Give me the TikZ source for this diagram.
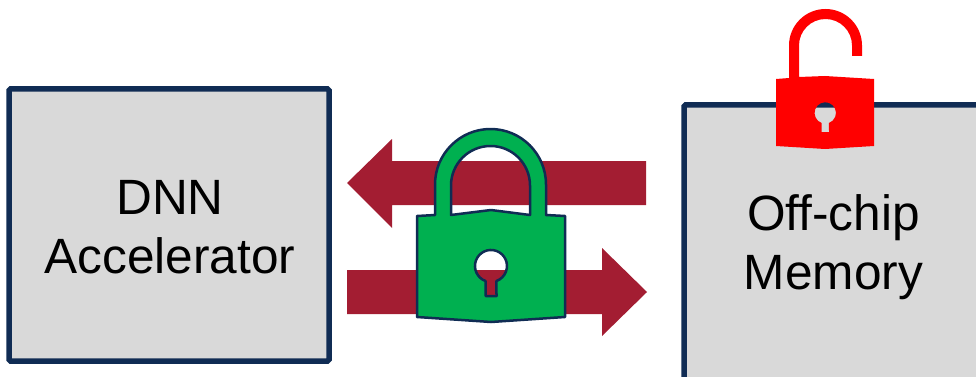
\documentclass[tikz,border=0pt]{standalone}
\usepackage{fontspec}
\setmainfont{Liberation Sans}

\definecolor{navy}{RGB}{16,44,84}
\definecolor{boxgray}{RGB}{217,217,217}
\definecolor{arrowred}{RGB}{163,29,50}
\definecolor{lockgreen}{RGB}{0,176,80}

\begin{document}
\begin{tikzpicture}[x=1pt, y=-1pt,
  unit/.style={draw=navy, fill=boxgray, line width=5.5pt, rounded corners=1.5pt, inner sep=0pt},
  blocktext/.style={align=center, inner sep=0pt, font=\fontsize{49.6}{59}\selectfont},
  flow/.style={fill=arrowred},
  safelock/.style={draw=navy, fill=lockgreen, line width=2.5pt, even odd rule, line join=round},
  openlock/.style={fill=red, even odd rule}]

\clip (0,0) rectangle (976,377);

\node[unit, minimum width=320pt, minimum height=272pt] (accel) at (169,225) {};
\node[blocktext, xshift=1pt, yshift=-2pt] (accellabel) at (accel) {DNN\\Accelerator};
\node[unit, minimum width=296pt, minimum height=280pt] (mem) at (832,245) {};
\node[blocktext, xshift=1.5pt, yshift=-2pt] (memlabel) at (mem) {Off-chip\\Memory};

% data arrows
\fill[flow] (646,161) -- (392,161) -- (392,139) -- (347,183) -- (392,228) -- (392,205) -- (646,205) -- cycle;
\fill[flow] (347,270) -- (602,270) -- (602,248) -- (647,292) -- (602,336) -- (602,314) -- (347,314) -- cycle;

% closed lock
\draw[safelock] (417,216) -- (435,215) -- (435,184.5) arc (180:360:55.5) -- (546,215) -- (565,216) -- (565,317) -- (491,322) -- (417,317) -- cycle
  (451,215) -- (491,210) -- (530,215) -- (530,185.5) arc (360:180:39.5) -- cycle
  (485.5,281) arc (110:430:16) -- (496.5,296) -- (485.5,296) -- cycle;

% open lock
\fill[openlock] (776,79) -- (789,78) -- (789,45.5) arc (180:360:36.5) -- (862,56) -- (852,56) -- (852,45.5) arc (360:180:26.5) -- (799,77) -- (825,76) -- (874,79) -- (874,146) -- (825,149) -- (776,146) -- cycle
  (821.6,123) arc (110:430:10.7) -- (829,132) -- (821.6,132) -- cycle;
\end{tikzpicture}
\end{document}
